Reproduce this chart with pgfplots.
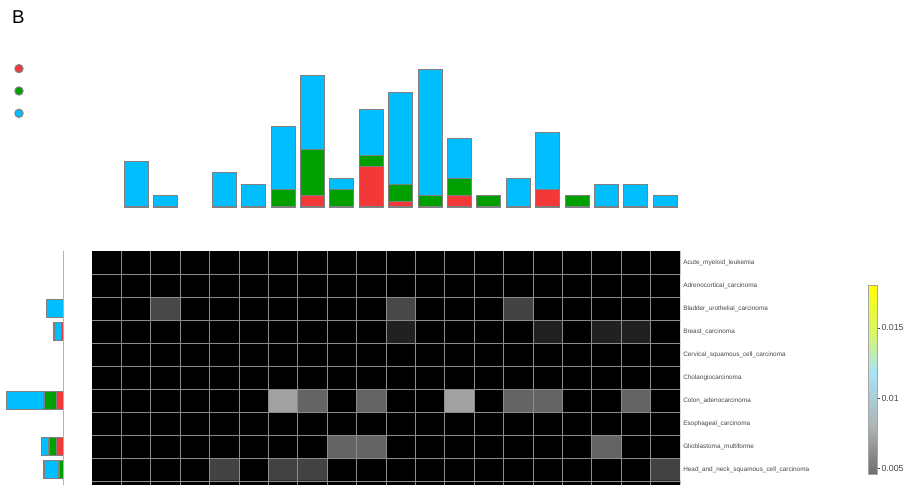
\documentclass[border=0pt]{standalone}
\usepackage{pgfplots}
\pgfplotsset{compat=1.18}
\usepackage{fontspec}
\setmainfont{Liberation Sans}
\definecolor{barred}{RGB}{242,56,56}
\definecolor{bargreen}{RGB}{0,160,0}
\definecolor{barblue}{RGB}{0,190,255}
\definecolor{baredge}{RGB}{128,128,128}
\definecolor{gridgray}{RGB}{140,140,140}
\definecolor{labelgray}{RGB}{70,70,70}

\begin{document}
\begin{tikzpicture}
% ---------- stacked counts above the columns ----------
\begin{axis}[
  at={(69pt,-155.25pt)}, anchor=south west,
  scale only axis, width=441pt, height=107.44pt,
  xmin=-0.5, xmax=19.5, ymin=0, ymax=25,
  hide axis, clip=false,
  ybar stacked, bar width=0.816,
  legend style={draw=none, fill=none, inner sep=0pt, outer sep=0pt,
    row sep=9.75pt, column sep=0pt,
    nodes={inner sep=0pt, outer sep=0pt},
    at={(axis description cs:-0.1321,0.9985)}, anchor=north west},
]
\addplot[fill=barred, draw=baredge, line width=0.8pt,
  legend image code/.code={\fill (0pt,0pt) circle (3.1pt);}]
  coordinates {(0,0) (1,0) (2,0) (3,0) (4,0) (5,0) (6,0) (7,2) (8,0) (9,7)
               (10,1) (11,0) (12,2) (13,0) (14,0) (15,3) (16,0) (17,0) (18,0) (19,0)};
\addlegendentry{\mbox{}}
\addplot[fill=bargreen, draw=baredge, line width=0.8pt,
  legend image code/.code={\fill (0pt,0pt) circle (3.1pt);}]
  coordinates {(0,0) (1,0) (2,0) (3,0) (4,0) (5,0) (6,3) (7,8) (8,3) (9,2)
               (10,3) (11,2) (12,3) (13,2) (14,0) (15,0) (16,2) (17,0) (18,0) (19,0)};
\addlegendentry{\mbox{}}
\addplot[fill=barblue, draw=baredge, line width=0.8pt,
  legend image code/.code={\fill (0pt,0pt) circle (3.1pt);}]
  coordinates {(0,0) (1,8) (2,2) (3,0) (4,6) (5,4) (6,11) (7,13) (8,2) (9,8)
               (10,16) (11,22) (12,7) (13,0) (14,5) (15,10) (16,0) (17,4) (18,4) (19,2)};
\addlegendentry{\mbox{}}
\end{axis}

% ---------- heatmap ----------
\begin{axis}[
  at={(69pt,-188.25pt)}, anchor=north west,
  scale only axis, width=441pt, height=175.5pt,
  xmin=-0.5, xmax=19.5, ymin=-0.5, ymax=9.674, y dir=reverse,
  enlargelimits=false,
  axis line style={draw=none},
  xtick=\empty,
  ytick={0,...,9},
  yticklabels={Acute\_myeloid\_leukemia, Adrenocortical\_carcinoma,
    Bladder\_urothelial\_carcinoma, Breast\_carcinoma,
    Cervical\_squamous\_cell\_carcinoma, Cholangiocarcinoma,
    Colon\_adenocarcinoma, Esophageal\_carcinoma,
    Glioblastoma\_multiforme, Head\_and\_neck\_squamous\_cell\_carcinoma},
  yticklabel pos=right,
  yticklabel style={font=\fontsize{4.8}{5}\selectfont, text=labelgray,
    anchor=west, inner sep=0pt, xshift=2.25pt},
  major tick length=0pt,
  extra x ticks={0.5,1.5,...,18.5}, extra x tick labels={},
  extra y ticks={0.5,1.5,...,9.5}, extra y tick labels={},
  extra tick style={grid=major, major grid style={gridgray, line width=0.75pt},
    major tick length=0pt},
  axis on top,
  colormap={cellgray}{gray(0cm)=(0); gray(1cm)=(1)},
  point meta min=0, point meta max=1,
]
\addplot[matrix plot*, mesh/cols=20, point meta=explicit] coordinates {
(0,0)[0] (1,0)[0] (2,0)[0] (3,0)[0] (4,0)[0] (5,0)[0] (6,0)[0] (7,0)[0] (8,0)[0] (9,0)[0] (10,0)[0] (11,0)[0] (12,0)[0] (13,0)[0] (14,0)[0] (15,0)[0] (16,0)[0] (17,0)[0] (18,0)[0] (19,0)[0]
(0,1)[0] (1,1)[0] (2,1)[0] (3,1)[0] (4,1)[0] (5,1)[0] (6,1)[0] (7,1)[0] (8,1)[0] (9,1)[0] (10,1)[0] (11,1)[0] (12,1)[0] (13,1)[0] (14,1)[0] (15,1)[0] (16,1)[0] (17,1)[0] (18,1)[0] (19,1)[0]
(0,2)[0] (1,2)[0] (2,2)[0.28] (3,2)[0] (4,2)[0] (5,2)[0] (6,2)[0] (7,2)[0] (8,2)[0] (9,2)[0] (10,2)[0.28] (11,2)[0] (12,2)[0] (13,2)[0] (14,2)[0.26] (15,2)[0] (16,2)[0] (17,2)[0] (18,2)[0] (19,2)[0]
(0,3)[0] (1,3)[0] (2,3)[0] (3,3)[0] (4,3)[0] (5,3)[0] (6,3)[0] (7,3)[0] (8,3)[0] (9,3)[0] (10,3)[0.13] (11,3)[0] (12,3)[0] (13,3)[0] (14,3)[0] (15,3)[0.13] (16,3)[0] (17,3)[0.13] (18,3)[0.13] (19,3)[0]
(0,4)[0] (1,4)[0] (2,4)[0] (3,4)[0] (4,4)[0] (5,4)[0] (6,4)[0] (7,4)[0] (8,4)[0] (9,4)[0] (10,4)[0] (11,4)[0] (12,4)[0] (13,4)[0] (14,4)[0] (15,4)[0] (16,4)[0] (17,4)[0] (18,4)[0] (19,4)[0]
(0,5)[0] (1,5)[0] (2,5)[0] (3,5)[0] (4,5)[0] (5,5)[0] (6,5)[0] (7,5)[0] (8,5)[0] (9,5)[0] (10,5)[0] (11,5)[0] (12,5)[0] (13,5)[0] (14,5)[0] (15,5)[0] (16,5)[0] (17,5)[0] (18,5)[0] (19,5)[0]
(0,6)[0] (1,6)[0] (2,6)[0] (3,6)[0] (4,6)[0] (5,6)[0] (6,6)[0.63] (7,6)[0.39] (8,6)[0] (9,6)[0.39] (10,6)[0] (11,6)[0] (12,6)[0.63] (13,6)[0] (14,6)[0.39] (15,6)[0.39] (16,6)[0] (17,6)[0] (18,6)[0.39] (19,6)[0]
(0,7)[0] (1,7)[0] (2,7)[0] (3,7)[0] (4,7)[0] (5,7)[0] (6,7)[0] (7,7)[0] (8,7)[0] (9,7)[0] (10,7)[0] (11,7)[0] (12,7)[0] (13,7)[0] (14,7)[0] (15,7)[0] (16,7)[0] (17,7)[0] (18,7)[0] (19,7)[0]
(0,8)[0] (1,8)[0] (2,8)[0] (3,8)[0] (4,8)[0] (5,8)[0] (6,8)[0] (7,8)[0] (8,8)[0.39] (9,8)[0.39] (10,8)[0] (11,8)[0] (12,8)[0] (13,8)[0] (14,8)[0] (15,8)[0] (16,8)[0] (17,8)[0.39] (18,8)[0] (19,8)[0]
(0,9)[0] (1,9)[0] (2,9)[0] (3,9)[0] (4,9)[0.26] (5,9)[0] (6,9)[0.26] (7,9)[0.26] (8,9)[0] (9,9)[0] (10,9)[0] (11,9)[0] (12,9)[0] (13,9)[0] (14,9)[0] (15,9)[0] (16,9)[0] (17,9)[0] (18,9)[0] (19,9)[0.26]
(0,10)[0] (1,10)[0] (2,10)[0] (3,10)[0] (4,10)[0] (5,10)[0] (6,10)[0] (7,10)[0] (8,10)[0] (9,10)[0] (10,10)[0] (11,10)[0] (12,10)[0] (13,10)[0] (14,10)[0] (15,10)[0] (16,10)[0] (17,10)[0] (18,10)[0] (19,10)[0]
};
\end{axis}

% ---------- stacked counts beside the rows ----------
\begin{axis}[
  at={(3pt,-188.25pt)}, anchor=north west,
  scale only axis, width=45pt, height=175.5pt,
  xmin=0, xmax=24, ymin=-0.5, ymax=9.674,
  x dir=reverse, y dir=reverse,
  hide axis,
  xbar stacked, bar width=0.81,
]
\draw[gray!60, line width=0.75pt] (axis cs:0,-0.5) -- (axis cs:0,9.674);
\addplot[fill=barred, draw=baredge, line width=0.8pt]
  coordinates {(0,0) (0,1) (0,2) (1,3) (0,4) (0,5) (3,6) (0,7) (3,8) (0,9)};
\addplot[fill=bargreen, draw=baredge, line width=0.8pt]
  coordinates {(0,0) (0,1) (0,2) (0,3) (0,4) (0,5) (5,6) (0,7) (3,8) (2,9)};
\addplot[fill=barblue, draw=baredge, line width=0.8pt]
  coordinates {(0,0) (0,1) (7,2) (3,3) (0,4) (0,5) (15,6) (0,7) (3,8) (6,9)};
\end{axis}

% ---------- colour scale ----------
\begin{axis}[
  at={(651.2pt,-355.7pt)}, anchor=south west,
  scale only axis, width=6.75pt, height=141.45pt,
  xmin=0, xmax=1, ymin=4.6, ymax=18, enlargelimits=false,
  xtick=\empty, ytick={5,10,15}, yticklabels={0.005,0.01,0.015},
  ytick pos=right, yticklabel pos=right,
  tick align=outside, major tick length=2.25pt,
  tick style={labelgray, line width=0.5pt},
  yticklabel style={font=\fontsize{6.6}{7}\selectfont, text=labelgray,
    inner sep=0pt, xshift=0.75pt},
  axis line style={draw=gray!70, line width=0.6pt},
  colormap={cbar}{rgb255(0pt)=(110,110,110); rgb255(34pt)=(175,180,182);
    rgb255(73pt)=(168,228,248); rgb255(99pt)=(215,245,110); rgb255(134pt)=(255,255,0)},
  point meta min=4.6, point meta max=18,
  axis on top,
]
\addplot[surf, shader=interp, mesh/cols=2, point meta=y] coordinates {
  (0,4.6) (1,4.6) (0,8) (1,8) (0,11.9) (1,11.9) (0,14.5) (1,14.5) (0,18) (1,18)};
\end{axis}

\node[font=\fontsize{14}{14}\selectfont, inner sep=0pt] at (13.7pt,-13.1pt) {B};

\pgfresetboundingbox
\path[use as bounding box] (0,0) rectangle (680.25pt,-363.75pt);
\end{tikzpicture}
\end{document}
